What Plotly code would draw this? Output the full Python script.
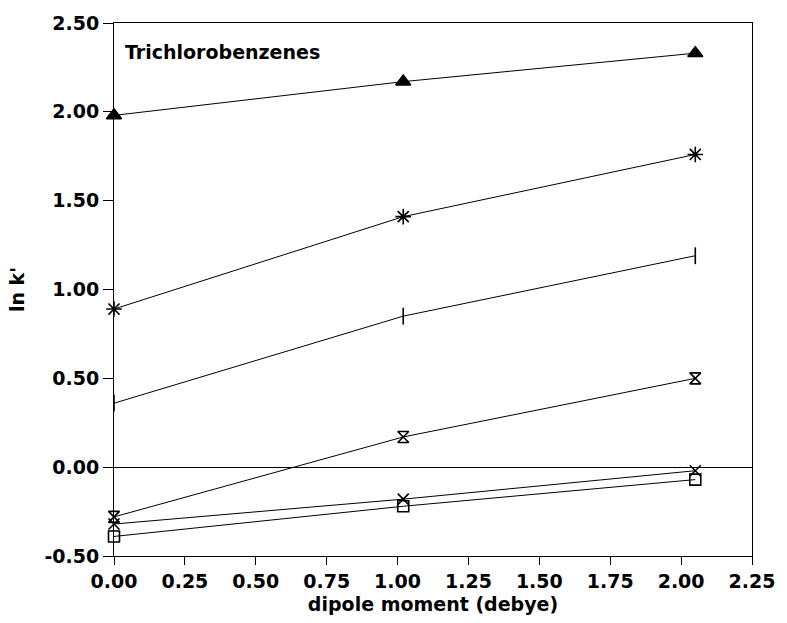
import plotly.graph_objects as go

dipole = [0.0, 1.02, 2.05]
s_triangle = [1.98, 2.17, 2.33]
s_asterisk = [0.89, 1.41, 1.76]
s_tick = [0.36, 0.85, 1.19]
s_hourglass = [-0.28, 0.17, 0.50]
s_cross = [-0.32, -0.18, -0.02]
s_square = [-0.39, -0.22, -0.07]

x_ticks = [0, 0.25, 0.5, 0.75, 1.0, 1.25, 1.5, 1.75, 2.0, 2.25]
y_ticks = [-0.5, 0, 0.5, 1.0, 1.5, 2.0, 2.5]

series = [
    (s_triangle, "triangle-up", 13),
    (s_asterisk, "asterisk-open", 13),
    (s_tick, "line-ns-open", 12),
    (s_hourglass, "hourglass-open", 11),
    (s_cross, "x-thin-open", 11),
    (s_square, "square-open", 11),
]

fig = go.Figure()
for ys, sym, sz in series:
    fig.add_trace(go.Scatter(
        x=dipole, y=ys, mode="lines+markers",
        line=dict(color="black", width=1),
        marker=dict(symbol=sym, size=sz, color="black",
                    line=dict(color="black", width=1.6)),
        cliponaxis=False, showlegend=False))

FAM = "DejaVu Sans, Arial, sans-serif"
font_main = dict(family=FAM, size=19, color="black")

fig.update_layout(
    width=787, height=623,
    margin=dict(l=114, r=26, t=15, b=67),
    paper_bgcolor="white", plot_bgcolor="white",
    font=font_main,
    annotations=[dict(text="<b>Trichlorobenzenes</b>", x=0.014, y=0.945,
                      xref="paper", yref="paper", xanchor="left", yanchor="middle",
                      showarrow=False, font=dict(size=19, color="black", family=FAM))],
)
fig.update_xaxes(
    range=[0, 2.25], tickvals=x_ticks,
    ticktext=[f"<b>{v:.2f}</b>" for v in x_ticks],
    showgrid=False, zeroline=False,
    showline=True, linecolor="black", linewidth=1, mirror=True,
    ticks="outside", ticklen=8, tickcolor="black",
    title=dict(text="<b>dipole moment (debye)</b>", standoff=6, font=font_main),
)
fig.update_yaxes(
    range=[-0.5, 2.5], tickvals=y_ticks,
    ticktext=[f"<b>{v:.2f}</b>" for v in y_ticks],
    showgrid=False, zeroline=True, zerolinecolor="black", zerolinewidth=1,
    showline=True, linecolor="black", linewidth=1, mirror=True,
    ticks="outside", ticklen=10, tickcolor="black",
    title=dict(text="<b>ln k'</b>", standoff=14, font=font_main),
)

fig.write_html("out.html")
